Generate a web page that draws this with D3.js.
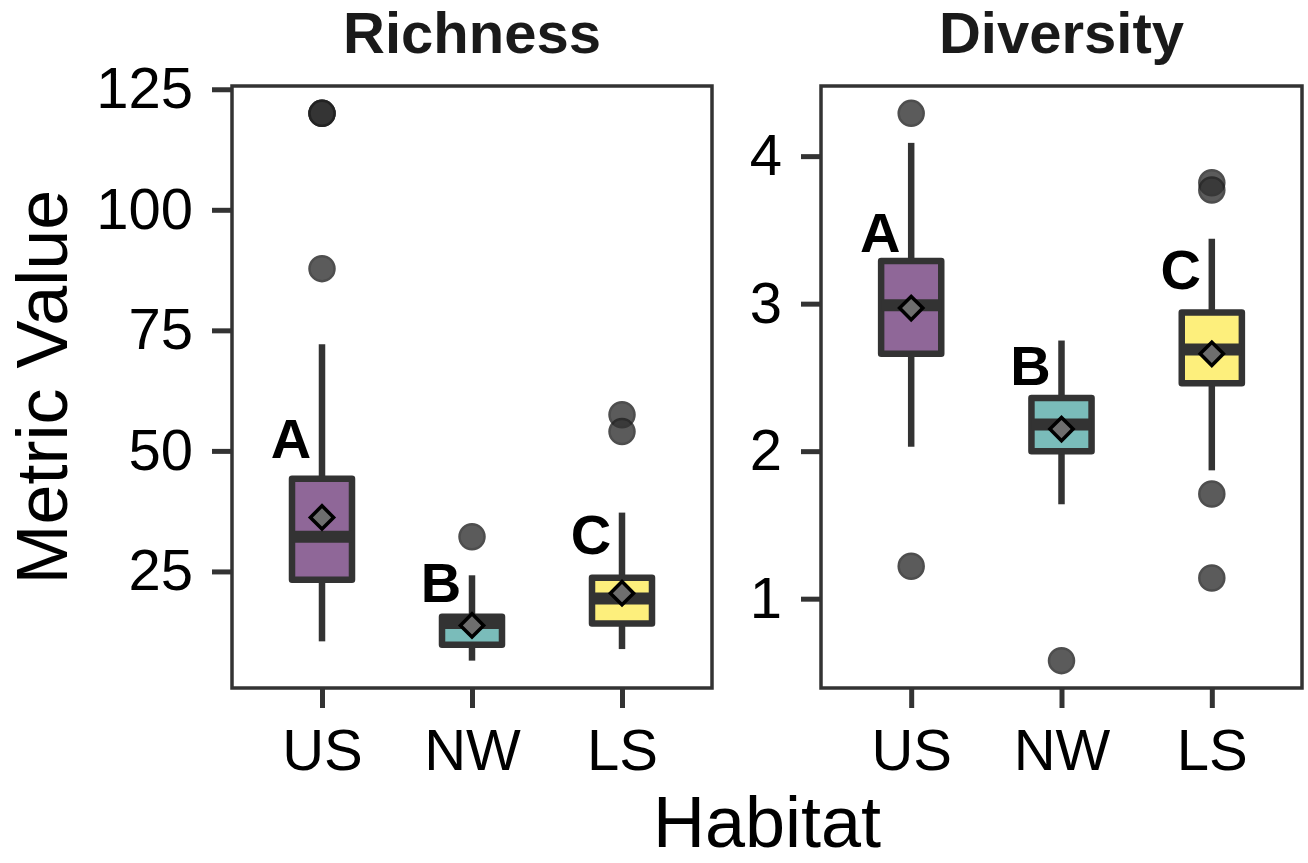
<!DOCTYPE html>
<html>
<head>
<meta charset="utf-8">
<script src="https://cdn.jsdelivr.net/npm/d3@7"></script>
<style>
  body { margin: 0; background: white; }
  svg { display: block; font-family: "Liberation Sans", Arial, sans-serif; }
</style>
</head>
<body>
<div id="vis"></div>
<script>
// habitats on the x axis
const habitats = ['US', 'NW', 'LS'];
const fills = ['#8f6798', '#7abcba', '#fdef7c'];
const letters = ['A', 'B', 'C'];

// richness box stats
const richLo = [10.5, 6.5, 8.9];
const richQ1 = [23.3, 9.8, 14.2];
const richMed = [32.2, 14.3, 19.4];
const richQ3 = [44.2, 15.6, 23.7];
const richHi = [72.1, 24.2, 37.2];
const richMean = [36.2, 13.8, 20.5];
const richOut = [[120, 120, 120, 87.8], [32.2], [57.5, 54]];
const richLetterY = [48.6, 18.6, 28.7];
const richTicks = [25, 50, 75, 100, 125];

// diversity box stats
const divLo = [2.03, 1.64, 1.87];
const divQ1 = [2.66, 2.00, 2.46];
const divMed = [2.99, 2.18, 2.69];
const divQ3 = [3.29, 2.36, 2.94];
const divHi = [4.09, 2.75, 3.44];
const divMean = [2.97, 2.15, 2.66];
const divOut = [[4.29, 1.22], [0.58], [3.82, 3.77, 1.71, 1.14]];
const divLetterY = [3.35, 2.45, 3.10];
const divTicks = [1, 2, 3, 4];

const W = 1308, H = 863;
const plotTop = 86, plotBottom = 688;
const ink = '#333333';

let svg = d3.select('#vis').append('svg')
  .attr('width', W)
  .attr('height', H)
  .attr('viewBox', [0, 0, W, H].join(' '));

function drawPanel(title, x0, x1, lo, q1, med, q3, hi, mean, outs, letterY, ticks) {
  let g = svg.append('g');

  // x positions like ggplot discrete scale (0.6 units of padding)
  let x = d3.scalePoint().domain(habitats).range([x0, x1]).padding(0.6);
  let step = x.step();
  let boxW = step * 0.4;

  // y domain from the data with 5% expansion
  let all = lo.concat(hi, outs.flat());
  let mn = d3.min(all), mx = d3.max(all);
  let pad = (mx - mn) * 0.05;
  let y = d3.scaleLinear().domain([mn - pad, mx + pad]).range([plotBottom, plotTop]);

  let rows = habitats.map((h, i) => ({
    h: h, i: i, lo: lo[i], q1: q1[i], med: med[i], q3: q3[i], hi: hi[i], mean: mean[i]
  }));

  // whiskers
  g.selectAll('.wlo').data(rows).join('line')
    .attr('x1', d => x(d.h)).attr('x2', d => x(d.h))
    .attr('y1', d => y(d.lo)).attr('y2', d => y(d.q1))
    .attr('stroke', ink).attr('stroke-width', 6.5);
  g.selectAll('.whi').data(rows).join('line')
    .attr('x1', d => x(d.h)).attr('x2', d => x(d.h))
    .attr('y1', d => y(d.hi)).attr('y2', d => y(d.q3))
    .attr('stroke', ink).attr('stroke-width', 6.5);

  // boxes
  g.selectAll('.box').data(rows).join('rect')
    .attr('x', d => x(d.h) - boxW / 2)
    .attr('width', boxW)
    .attr('y', d => y(d.q3))
    .attr('height', d => y(d.q1) - y(d.q3))
    .attr('fill', d => fills[d.i])
    .attr('stroke', ink).attr('stroke-width', 6.5)
    .attr('stroke-linejoin', 'round');

  // medians
  g.selectAll('.med').data(rows).join('line')
    .attr('x1', d => x(d.h) - boxW / 2).attr('x2', d => x(d.h) + boxW / 2)
    .attr('y1', d => y(d.med)).attr('y2', d => y(d.med))
    .attr('stroke', ink).attr('stroke-width', 12);

  // outliers
  let pts = [];
  outs.forEach((arr, i) => arr.forEach(v => pts.push({ h: habitats[i], v: v })));
  g.selectAll('.out').data(pts).join('circle')
    .attr('cx', d => x(d.h))
    .attr('cy', d => y(d.v))
    .attr('r', 12.5)
    .attr('fill', '#333')
    .attr('stroke', '#222')
    .attr('stroke-width', 2.5)
    .attr('opacity', 0.8);

  // means as diamonds
  g.selectAll('.mean').data(rows).join('path')
    .attr('d', d3.symbol().type(d3.symbolSquare).size(270))
    .attr('transform', d => 'translate(' + x(d.h) + ',' + y(d.mean) + ') rotate(45)')
    .attr('fill', '#6e6e6e')
    .attr('stroke', '#000')
    .attr('stroke-width', 3.5);

  // group letters
  g.selectAll('.let').data(rows).join('text')
    .attr('x', d => x(d.h) - 31)
    .attr('y', d => y(letterY[d.i]))
    .attr('text-anchor', 'middle')
    .attr('font-weight', 'bold')
    .attr('font-size', 56)
    .attr('fill', '#000')
    .text(d => letters[d.i]);

  // panel border
  g.append('rect')
    .attr('x', x0).attr('y', plotTop)
    .attr('width', x1 - x0).attr('height', plotBottom - plotTop)
    .attr('fill', 'none')
    .attr('stroke', ink).attr('stroke-width', 3.5);

  // axes
  let ya = g.append('g')
    .attr('transform', 'translate(' + x0 + ',0)')
    .call(d3.axisLeft(y).tickValues(ticks).tickFormat(d3.format('d')).tickSize(20).tickPadding(19));
  let xa = g.append('g')
    .attr('transform', 'translate(0,' + plotBottom + ')')
    .call(d3.axisBottom(x).tickSize(20).tickPadding(21));
  [ya, xa].forEach(a => {
    a.select('.domain').remove();
    a.selectAll('.tick line').attr('stroke', ink).attr('stroke-width', 5);
    a.selectAll('.tick text')
      .attr('font-size', 58)
      .attr('font-family', '"Liberation Sans", Arial, sans-serif')
      .attr('fill', '#000');
  });

  // panel title
  svg.append('text')
    .attr('x', (x0 + x1) / 2)
    .attr('y', 53)
    .attr('text-anchor', 'middle')
    .attr('font-weight', 'bold')
    .attr('font-size', 58)
    .attr('fill', '#1a1a1a')
    .text(title);
}

drawPanel('Richness', 232, 712, richLo, richQ1, richMed, richQ3, richHi, richMean, richOut, richLetterY, richTicks);
drawPanel('Diversity', 821, 1302, divLo, divQ1, divMed, divQ3, divHi, divMean, divOut, divLetterY, divTicks);

// axis titles
svg.append('text')
  .attr('x', 767)
  .attr('y', 847)
  .attr('text-anchor', 'middle')
  .attr('font-size', 72)
  .attr('fill', '#000')
  .text('Habitat');

svg.append('text')
  .attr('transform', 'translate(67,' + (plotTop + plotBottom) / 2 + ') rotate(-90)')
  .attr('text-anchor', 'middle')
  .attr('font-size', 72)
  .attr('fill', '#000')
  .text('Metric Value');
</script>
</body>
</html>
